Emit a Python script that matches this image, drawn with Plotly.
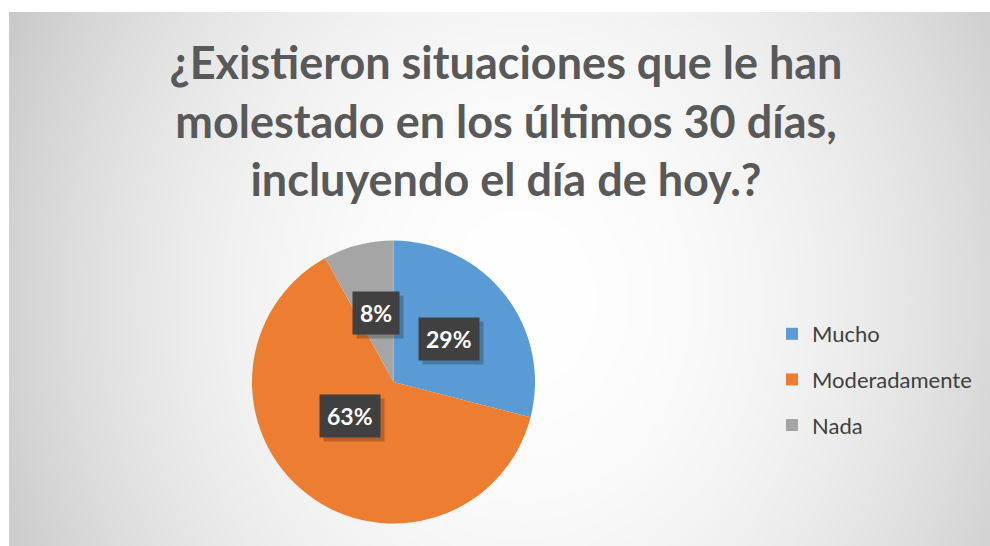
"""Pie chart: situaciones molestas en los últimos 30 días — Excel look."""

import base64
import struct
import zlib

import numpy as np
import plotly.graph_objects as go

CATEGORIES = ["Mucho", "Moderadamente", "Nada"]
VALUES = [29, 63, 8]
COLORS = ["#5B9BD5", "#ED7D31", "#A5A5A5"]
TITLE = "¿Existieron situaciones que le han<br>molestado en los últimos 30 días,<br>incluyendo el día de hoy.?"

W, H = 990, 546
# chart area (px) inside the white page
AREA_X0, AREA_Y0 = 9, 12
# pie geometry (px, top-left origin)
PIE_CX, PIE_CY, PIE_R = 393.5, 382.0, 141.5

_FONT = "Lato, 'Open Sans', sans-serif"
_DARK = "#404040"


def gradient_png(w: int, h: int, scale: int = 2) -> str:
    """Light radial-ish gradient like the Excel chart fill, as a data URI."""
    gw, gh = w // scale, h // scale
    px = AREA_X0 + (np.arange(gw) + 0.5) * scale
    py = AREA_Y0 + (np.arange(gh) + 0.5) * scale
    X, Y = np.meshgrid(px, py)
    g = 255 - 44 * ((X - 520) / 510) ** 2 - 10 * ((Y - 300) / 288) ** 2
    g = np.clip(g, 190, 255).astype(np.uint8)
    raw = b"".join(b"\x00" + row.tobytes() for row in g)

    def chunk(tag, data):
        c = struct.pack(">I", len(data)) + tag + data
        return c + struct.pack(">I", zlib.crc32(tag + data) & 0xFFFFFFFF)

    png = b"\x89PNG\r\n\x1a\n"
    png += chunk(b"IHDR", struct.pack(">IIBBBBB", gw, gh, 8, 0, 0, 0, 0))
    png += chunk(b"IDAT", zlib.compress(raw, 9))
    png += chunk(b"IEND", b"")
    return "data:image/png;base64," + base64.b64encode(png).decode()


fig = go.Figure()
fig.add_trace(
    go.Pie(
        labels=CATEGORIES,
        values=VALUES,
        marker=dict(colors=COLORS, line=dict(width=0)),
        sort=False,
        direction="clockwise",
        rotation=0,
        textinfo="none",
        hoverinfo="label+percent",
        showlegend=False,
        domain=dict(
            x=[(PIE_CX - PIE_R) / W, (PIE_CX + PIE_R) / W],
            y=[1 - (PIE_CY + PIE_R) / H, 1 - (PIE_CY - PIE_R) / H],
        ),
    )
)

# legend entries with Excel-like spacing
for name, color in zip(CATEGORIES, COLORS):
    fig.add_trace(
        go.Scatter(
            x=[None], y=[None], mode="markers", name=name, legendgroup=name,
            marker=dict(symbol="square", size=12, color=color),
        )
    )

# data labels: dark boxes at half radius on each slice's mid-angle
total = sum(VALUES)
start = 0.0
for v in VALUES:
    frac = v / total
    mid = (start + frac / 2) * 2 * np.pi
    start += frac
    lx = (PIE_CX + 0.5 * PIE_R * np.sin(mid)) / W
    ly = 1 - (PIE_CY - 0.5 * PIE_R * np.cos(mid)) / H
    label = f"{frac:.0%}"
    common = dict(x=lx, y=ly, xref="paper", yref="paper", showarrow=False,
                  text=f"<b>{label}</b>", borderpad=7)
    fig.add_annotation(**common, xshift=4, yshift=-4, bgcolor="rgba(0,0,0,0.22)",
                       font=dict(family=_FONT, size=23, color="rgba(0,0,0,0)"))
    fig.add_annotation(**common, bgcolor="#404040",
                       font=dict(family=_FONT, size=23, color="white"))

fig.add_layout_image(
    source=gradient_png(W - AREA_X0, H - AREA_Y0),
    xref="paper", yref="paper", x=AREA_X0 / W, y=1 - AREA_Y0 / H,
    sizex=(W - AREA_X0) / W, sizey=(H - AREA_Y0) / H,
    xanchor="left", yanchor="top", sizing="stretch", layer="below",
)

fig.update_layout(
    template="none",
    width=W,
    height=H,
    margin=dict(l=0, r=0, t=0, b=0),
    paper_bgcolor="white",
    plot_bgcolor="rgba(0,0,0,0)",
    title=dict(
        text=f"<b>{TITLE}</b>",
        x=506 / W, xanchor="center",
        y=1 - 79 / H, yanchor="top",
        font=dict(family=_FONT, size=45, color="#595959"),
    ),
    xaxis=dict(visible=False),
    yaxis=dict(visible=False),
    showlegend=True,
    legend=dict(
        x=772 / W, xanchor="left",
        y=1 - 313 / H, yanchor="top",
        bgcolor="rgba(0,0,0,0)",
        font=dict(family=_FONT, size=22, color=_DARK),
        tracegroupgap=14,
        itemclick=False,
    ),
)

fig.write_html(
    "out.html",
    config={"displayModeBar": False},
    post_script="document.body.style.margin='0';",
)
